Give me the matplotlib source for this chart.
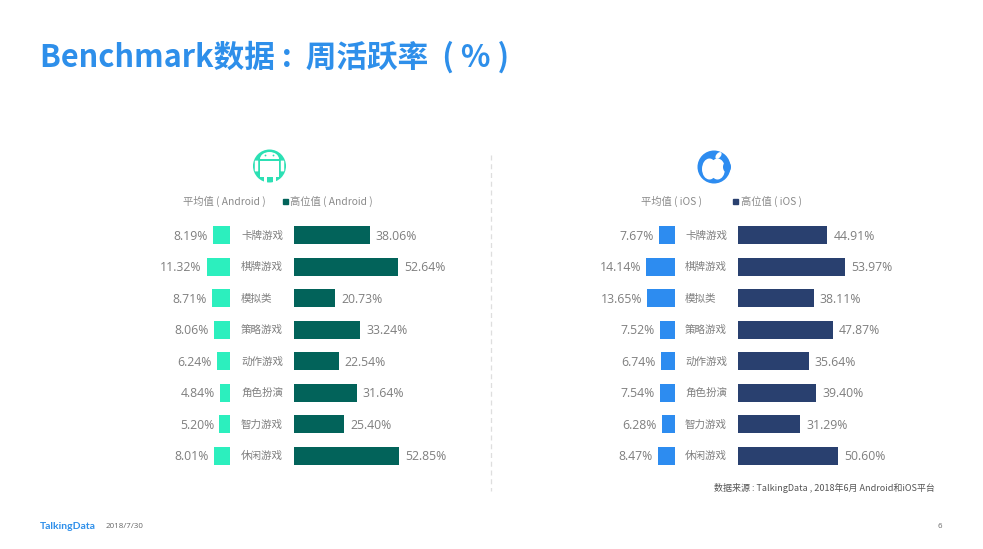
import matplotlib
matplotlib.use('Agg')
import matplotlib.pyplot as plt
from matplotlib.patches import Circle, Rectangle, Ellipse, FancyBboxPatch

plt.rcParams['font.family'] = ['Noto Sans CJK SC', 'DejaVu Sans']

categories = ['卡牌游戏', '棋牌游戏', '模拟类', '策略游戏', '动作游戏', '角色扮演', '智力游戏', '休闲游戏']
android_avg = [8.19, 11.32, 8.71, 8.06, 6.24, 4.84, 5.20, 8.01]
android_high = [38.06, 52.64, 20.73, 33.24, 22.54, 31.64, 25.40, 52.85]
ios_avg = [7.67, 14.14, 13.65, 7.52, 6.74, 7.54, 6.28, 8.47]
ios_high = [44.91, 53.97, 38.11, 47.87, 35.64, 39.40, 31.29, 50.60]

W, H = 983, 549
fig = plt.figure(figsize=(W / 100, H / 100), dpi=100, facecolor='white')
bg = fig.add_axes([0, 0, 1, 1])
bg.set_xlim(0, W)
bg.set_ylim(H, 0)
bg.axis('off')

GRAY = '#7f7f7f'
LATIN = ['Open Sans', 'Noto Sans CJK SC']
CJK = ['Noto Sans CJK SC', 'DejaVu Sans']
ROW_TOP, ROW_BOTTOM = 219.5, 471.5


def bar_axes(x0, x1, xmax, invert=False):
    ax = fig.add_axes([x0 / W, 1 - ROW_BOTTOM / H, (x1 - x0) / W, (ROW_BOTTOM - ROW_TOP) / H])
    ax.set_xlim(xmax, 0) if invert else ax.set_xlim(0, xmax)
    ax.set_ylim(len(categories) - 0.5, -0.5)
    ax.axis('off')
    ax.patch.set_alpha(0)
    return ax


def panel(avg, high, avg_right, high_left, cat_x, avg_color, high_color):
    a = bar_axes(avg_right - 60, avg_right, 60 / 2.04, invert=True)
    h = bar_axes(high_left, high_left + 160, 160 / 1.985)
    ys = range(len(categories))
    a.barh(ys, avg, height=0.56, color=avg_color)
    h.barh(ys, high, height=0.56, color=high_color)
    for y, v, w, c in zip(ys, avg, high, categories):
        a.annotate(f'{v:.2f}%', (v, y), xytext=(-3.8, -0.6), textcoords='offset points', ha='right', va='center',
                   fontsize=8.8, color=GRAY, family=LATIN, annotation_clip=False)
        h.annotate(f'{w:.2f}%', (w, y), xytext=(4.4, -0.6), textcoords='offset points', ha='left', va='center',
                   fontsize=8.8, color=GRAY, family=LATIN, annotation_clip=False)
        py = ROW_TOP + (y + 0.5) * (ROW_BOTTOM - ROW_TOP) / len(categories)
        bg.text(cat_x, py + 0.4, c, ha='left', va='center', fontsize=7.6, color=GRAY, family=CJK)


panel(android_avg, android_high, 230, 294, 241, '#2CEFBE', '#02635A')
panel(ios_avg, ios_high, 675, 738, 685, '#2D8CF0', '#29406F')

# Title
bg.text(40, 57.5, 'Benchmark数据 :  周活跃率  ( % )', fontsize=22.1, fontweight='bold', color='#2E8FEA',
        ha='left', va='center', family=CJK)

# Legends
LEG = '#8a8a8a'
bg.text(183, 201.5, '平均值 ( Android )', fontsize=7.4, color=LEG, va='center', family=CJK)
bg.add_patch(Rectangle((283, 199), 4.5, 5, color='#02635A'))
bg.text(290, 201.5, '高位值 ( Android )', fontsize=7.4, color=LEG, va='center', family=CJK)
bg.text(641, 201, '平均值 ( iOS )', fontsize=7.4, color=LEG, va='center', family=CJK)
bg.add_patch(Rectangle((733, 198.5), 4.5, 5, color='#29406F'))
bg.text(741, 201, '高位值 ( iOS )', fontsize=7.4, color=LEG, va='center', family=CJK)

# Divider
bg.plot([491, 491], [155, 491], color='#dedede', lw=0.9, ls=(0, (4, 3)))

# Android icon: white robot on a teal disc
T = '#2CE0B4'
bg.add_patch(Circle((269.5, 166), 16.5, fc=T, ec='none'))
bg.add_patch(Ellipse((269.5, 159), 19, 14, fc='white', ec='none'))
bg.add_patch(Rectangle((258, 159), 23, 1.6, fc=T, ec='none'))
bg.add_patch(Rectangle((260, 160.6), 19, 16, fc='white', ec='none'))
bg.add_patch(FancyBboxPatch((255.2, 161), 2.6, 10, boxstyle='round,pad=0.4', fc='white', ec='none'))
bg.add_patch(FancyBboxPatch((281.2, 161), 2.6, 10, boxstyle='round,pad=0.4', fc='white', ec='none'))
bg.add_patch(Rectangle((263.5, 176), 3, 6.5, fc='white', ec='none'))
bg.add_patch(Rectangle((272.5, 176), 3, 6.5, fc='white', ec='none'))
bg.add_patch(Circle((265.5, 155.5), 0.9, fc=T, ec='none'))
bg.add_patch(Circle((273.5, 155.5), 0.9, fc=T, ec='none'))

# Apple icon: white apple on a blue disc
B = '#2D8CF0'
bg.add_patch(Circle((714, 167), 16.5, fc=B, ec='none'))
bg.add_patch(Ellipse((709.5, 169), 15, 21, fc='white', ec='none'))
bg.add_patch(Ellipse((717.5, 169), 15, 21, fc='white', ec='none'))
bg.add_patch(Ellipse((727, 167), 8, 11, fc=B, ec='none'))
bg.add_patch(Ellipse((718.5, 155.5), 4.5, 8, angle=40, fc='white', ec='none'))

# Source and footer
bg.text(935, 488, '数据来源 : TalkingData , 2018年6月 Android和iOS平台', fontsize=6.5, color='#555555',
        ha='right', va='center', family=CJK)
bg.text(40, 526.5, 'TalkingData', fontsize=7.5, fontweight='bold', color='#2E8FEA', va='center', family=['Lato', 'DejaVu Sans'])
bg.text(106, 527, '2018/7/30', fontsize=5.8, color='#666666', va='center', family=LATIN)
bg.text(942, 526.5, '6', fontsize=5.6, color='#666666', ha='right', va='center', family=LATIN)

fig.savefig('out.png', dpi=100)
